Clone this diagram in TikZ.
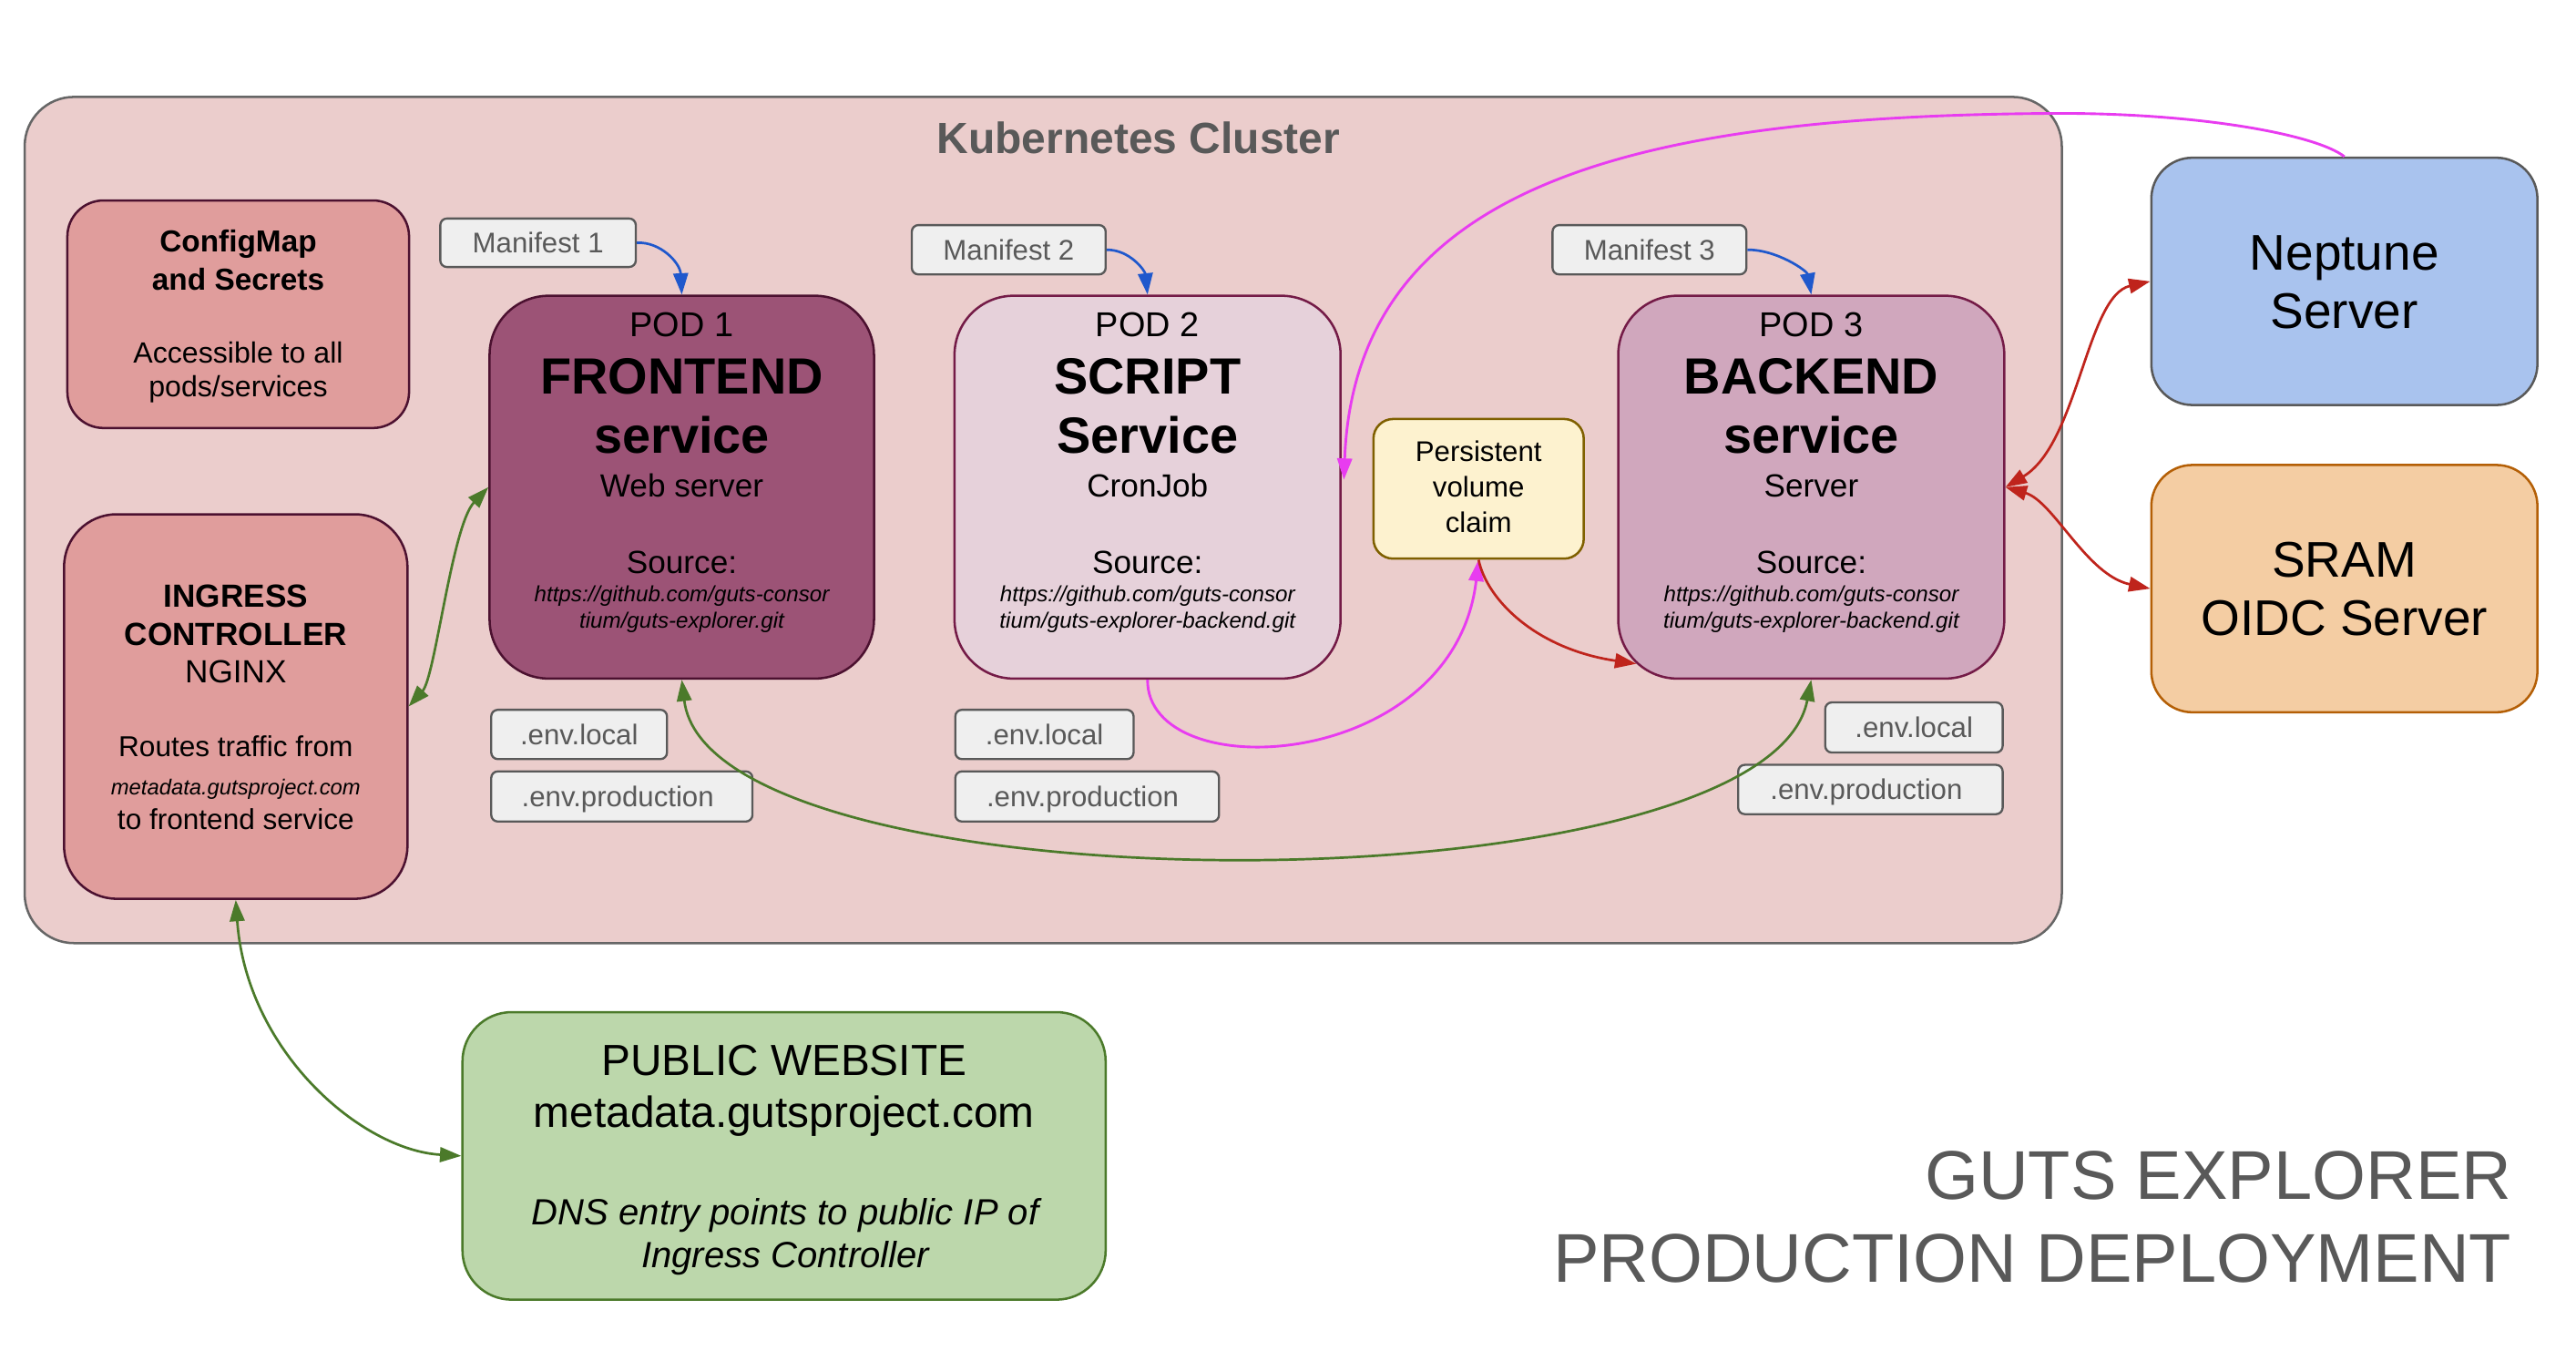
\documentclass[tikz,border=0pt]{standalone}
\usepackage{fontspec}
\setmainfont{Liberation Sans}
\usetikzlibrary{arrows.meta}
\definecolor{clusterfill}{HTML}{EBCDCC}
\definecolor{clusterline}{HTML}{666666}
\definecolor{dgray}{HTML}{595959}
\definecolor{cfgfill}{HTML}{E09D9C}
\definecolor{maroon}{HTML}{4C1130}
\definecolor{podline}{HTML}{741B47}
\definecolor{podAfill}{HTML}{9C5376}
\definecolor{podBfill}{HTML}{E6D1DA}
\definecolor{podCfill}{HTML}{D0A7BD}
\definecolor{pvcfill}{HTML}{FDF2CF}
\definecolor{pvcline}{HTML}{7F6000}
\definecolor{manfill}{HTML}{EFEFEF}
\definecolor{nepfill}{HTML}{A9C3EE}
\definecolor{sramfill}{HTML}{F4CDA3}
\definecolor{sramline}{HTML}{B45F06}
\definecolor{pubfill}{HTML}{BCD7AB}
\definecolor{greenline}{HTML}{4B7A2A}
\definecolor{blueline}{HTML}{1F58CC}
\definecolor{magline}{HTML}{E83CF0}
\definecolor{redline}{HTML}{BF241C}
\newcommand{\fsz}[1]{\fontsize{#1}{#1}\selectfont}
\begin{document}
\begin{tikzpicture}[x=1pt,y=-1pt]
\tikzset{
  box/.style={draw, line width=1.4pt, inner sep=0pt, rounded corners=#1},
  box/.default=20pt,
  lbl/.style={inner sep=0pt, anchor=base},
  conn/.style={line width=1.5pt},
  tipend/.style={-{Triangle[length=13pt,width=9pt]}},
  tipboth/.style={{Triangle[length=13pt,width=9pt]}-{Triangle[length=13pt,width=9pt]}},
  gline/.style={conn, draw=greenline, fill=none, greenline},
  bline/.style={conn, draw=blueline, blueline},
  mline/.style={line width=1.6pt, draw=magline, magline},
  rline/.style={conn, draw=redline, redline},
  smallbox/.style={box=4pt, fill=manfill, draw=dgray, line width=1.3pt},
  smalltxt/.style={lbl, font=\fsz{17.3}, text=dgray},
}
\useasboundingbox (0,0) rectangle (1568,822);
\fill[white] (0,0) rectangle (1568,822);

% cluster
\node[box=30pt, fill=clusterfill, draw=clusterline, minimum width=1240pt, minimum height=515pt] (cluster) at (635,316.5) {};
\node[lbl, font=\fsz{26.6}\bfseries, text=dgray] (ktitle) at (693,93.5) {Kubernetes Cluster};

% ConfigMap
\node[box=22pt, fill=cfgfill, draw=maroon, minimum width=208pt, minimum height=138.5pt] (cfg) at (145,191.25) {};
\node[lbl, font=\fsz{18.5}\bfseries] (cfgA) at (145,153.4) {ConfigMap};
\node[lbl, font=\fsz{18.5}\bfseries] (cfgB) at (145,176.5) {and Secrets};
\node[lbl, font=\fsz{17.8}] (cfgC) at (145,221) {Accessible to all};
\node[lbl, font=\fsz{17.8}] (cfgD) at (145,241.5) {pods/services};

% Ingress
\node[box=32pt, fill=cfgfill, draw=maroon, minimum width=209pt, minimum height=234pt] (ingress) at (143.5,430) {};
\node[lbl, font=\fsz{19.5}\bfseries] (ingA) at (143.5,369.6) {INGRESS};
\node[lbl, font=\fsz{19.5}\bfseries] (ingB) at (143.5,392.7) {CONTROLLER};
\node[lbl, font=\fsz{19.5}] (ingC) at (143.5,415.8) {NGINX};
\node[lbl, font=\fsz{17.5}] (ingD) at (143.5,460.2) {Routes traffic from};
\node[lbl, font=\fsz{13.2}\itshape] (ingE) at (143.5,484) {metadata.gutsproject.com};
\node[lbl, font=\fsz{17.5}] (ingF) at (143.5,505) {to frontend service};

% PODs
\node[box=36pt, fill=podAfill, draw=maroon, minimum width=234pt, minimum height=233pt] (pod1) at (415,296.5) {};
\node[box=36pt, fill=podBfill, draw=podline, minimum width=235pt, minimum height=233pt] (pod2) at (698.5,296.5) {};
\node[box=36pt, fill=podCfill, draw=podline, minimum width=235pt, minimum height=233pt] (pod3) at (1102.5,296.5) {};

\node[lbl, font=\fsz{21}] (p1a) at (415,205) {POD 1};
\node[lbl, font=\fsz{31}\bfseries] (p1b) at (415,240) {FRONTEND};
\node[lbl, font=\fsz{31}\bfseries] (p1c) at (415,276) {service};
\node[lbl, font=\fsz{19.5}] (p1d) at (415,302.5) {Web server};
\node[lbl, font=\fsz{19.5}] (p1e) at (415,349) {Source:};
\node[lbl, font=\fsz{13.4}\itshape] (p1f) at (415,366) {https://github.com/guts-consor};
\node[lbl, font=\fsz{13.4}\itshape] (p1g) at (415,382.5) {tium/guts-explorer.git};

\node[lbl, font=\fsz{21}] (p2a) at (698.5,205) {POD 2};
\node[lbl, font=\fsz{31}\bfseries] (p2b) at (698.5,240) {SCRIPT};
\node[lbl, font=\fsz{31}\bfseries] (p2c) at (698.5,276) {Service};
\node[lbl, font=\fsz{19.5}] (p2d) at (698.5,302.5) {CronJob};
\node[lbl, font=\fsz{19.5}] (p2e) at (698.5,349) {Source:};
\node[lbl, font=\fsz{13.4}\itshape] (p2f) at (698.5,366) {https://github.com/guts-consor};
\node[lbl, font=\fsz{13.4}\itshape] (p2g) at (698.5,382.5) {tium/guts-explorer-backend.git};

\node[lbl, font=\fsz{21}] (p3a) at (1102.5,205) {POD 3};
\node[lbl, font=\fsz{31}\bfseries] (p3b) at (1102.5,240) {BACKEND};
\node[lbl, font=\fsz{31}\bfseries] (p3c) at (1102.5,276) {service};
\node[lbl, font=\fsz{19.5}] (p3d) at (1102.5,302.5) {Server};
\node[lbl, font=\fsz{19.5}] (p3e) at (1102.5,349) {Source:};
\node[lbl, font=\fsz{13.4}\itshape] (p3f) at (1102.5,366) {https://github.com/guts-consor};
\node[lbl, font=\fsz{13.4}\itshape] (p3g) at (1102.5,382.5) {tium/guts-explorer-backend.git};

% PVC
\node[box=12pt, fill=pvcfill, draw=pvcline, minimum width=128pt, minimum height=85pt] (pvc) at (900,297.5) {};
\node[lbl, font=\fsz{17.3}] (pvcA) at (900,281) {Persistent};
\node[lbl, font=\fsz{17.3}] (pvcB) at (900,302.5) {volume};
\node[lbl, font=\fsz{17.3}] (pvcC) at (900,324) {claim};

% Manifests
\node[smallbox, minimum width=119pt, minimum height=29.5pt] (m1) at (327.5,147.75) {};
\node[smalltxt] (m1t) at (327.5,153.8) {Manifest 1};
\node[smallbox, minimum width=118pt, minimum height=30pt] (m2) at (614,152) {};
\node[smalltxt] (m2t) at (614,158.2) {Manifest 2};
\node[smallbox, minimum width=118pt, minimum height=30pt] (m3) at (1004,152) {};
\node[smalltxt] (m3t) at (1004,158.2) {Manifest 3};

% env files
\node[smallbox, minimum width=107pt, minimum height=30pt] (e1l) at (352.5,447) {};
\node[smalltxt] (e1lt) at (352.5,453.2) {.env.local};
\node[smallbox, minimum width=159pt, minimum height=30.5pt] (e1p) at (378.5,484.75) {};
\node[smalltxt] (e1pt) at (376,491) {.env.production};
\node[smallbox, minimum width=108.5pt, minimum height=30pt] (e2l) at (635.75,447) {};
\node[smalltxt] (e2lt) at (635.75,453.2) {.env.local};
\node[smallbox, minimum width=160.5pt, minimum height=30.5pt] (e2p) at (661.75,484.75) {};
\node[smalltxt] (e2pt) at (659,491) {.env.production};
\node[smallbox, minimum width=108pt, minimum height=30.5pt] (e3l) at (1165,442.75) {};
\node[smalltxt] (e3lt) at (1165,449) {.env.local};
\node[smallbox, minimum width=161pt, minimum height=30pt] (e3p) at (1138.5,480.5) {};
\node[smalltxt] (e3pt) at (1136,486.7) {.env.production};

% External servers
\node[box=25pt, fill=nepfill, draw=dgray, minimum width=235pt, minimum height=150.5pt] (nep) at (1427,171.25) {};
\node[lbl, font=\fsz{30.5}] (nepA) at (1427,164.3) {Neptune};
\node[lbl, font=\fsz{30.5}] (nepB) at (1427,200) {Server};
\node[box=25pt, fill=sramfill, draw=sramline, minimum width=235pt, minimum height=150.5pt] (sram) at (1427,358.25) {};
\node[lbl, font=\fsz{30.5}] (sramA) at (1427,351.2) {SRAM};
\node[lbl, font=\fsz{30.5}] (sramB) at (1427,387) {OIDC Server};

% Public website
\node[box=30pt, fill=pubfill, draw=greenline, minimum width=391.5pt, minimum height=175pt] (pub) at (477.25,703.5) {};
\node[lbl, font=\fsz{26.5}] (pubA) at (477.25,654.4) {PUBLIC WEBSITE};
\node[lbl, font=\fsz{26.5}] (pubB) at (477.25,686.2) {metadata.gutsproject.com};
\node[lbl, font=\fsz{22.2}\itshape] (pubC) at (478,745.3) {DNS entry points to public IP of};
\node[lbl, font=\fsz{22.2}\itshape] (pubD) at (478,771.5) {Ingress Controller};

% Title
\node[inner sep=0pt, anchor=base east, font=\fsz{42}, text=dgray] (tA) at (1529,730) {GUTS EXPLORER};
\node[inner sep=0pt, anchor=base east, font=\fsz{42}, text=dgray] (tB) at (1529,780.3) {PRODUCTION DEPLOYMENT};

% connector end points
\coordinate (p2in) at (818,292);
\coordinate (p3in) at (996,404);
\coordinate (magtop) at (1254,69);

% connectors
\draw[gline, tipboth] (ingress.east) .. controls (265,412) and (275,320) .. (pod1.west);
\draw[gline, tipboth] (pod1.south) .. controls (432,556) and (1075,556) .. (pod3.south);
\draw[gline, tipboth] (ingress.south) .. controls (150,640) and (220,700) .. (pub.west);

\draw[bline, tipend] (m1.east) .. controls (402,147) and (414,160) .. (pod1.north);
\draw[bline, tipend] (m2.east) .. controls (688,152) and (697,165) .. (pod2.north);
\draw[bline, tipend] (m3.east) .. controls (1082,152) and (1100,165) .. (pod3.north);

\draw[mline, tipend] (nep.north) .. controls (1410,82) and (1340,69) .. (magtop) .. controls (1000,70) and (825,110) .. (p2in);
\draw[mline, tipend] (pod2.south) .. controls (698,480) and (885,470) .. (pvc.south);

\draw[rline, tipend] (pvc.south) .. controls (905,365) and (935,395) .. (p3in);
\draw[rline, tipboth] (pod3.east) .. controls (1265,270) and (1270,180) .. (nep.west);
\draw[rline, tipboth] (pod3.east) .. controls (1250,305) and (1270,350) .. (sram.west);
\end{tikzpicture}
\end{document}
